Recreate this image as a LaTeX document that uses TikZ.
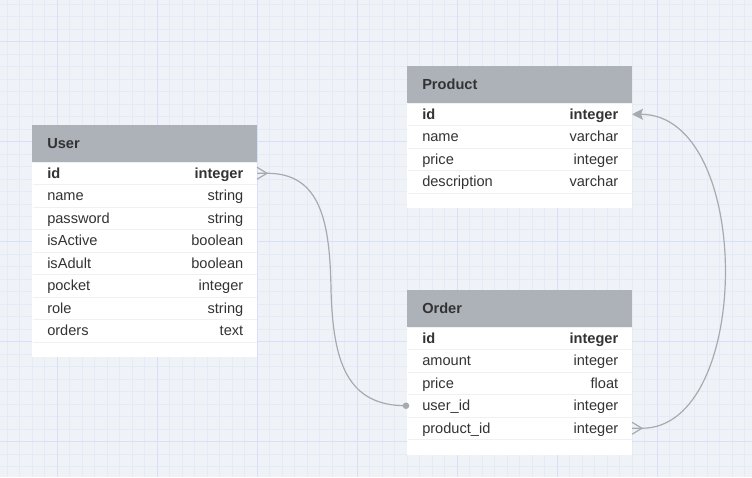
\documentclass[tikz,border=0pt]{standalone}
\usepackage{fontspec}
\setmainfont{Liberation Sans}
\usetikzlibrary{positioning, arrows.meta, calc}
\definecolor{clrcanvas}{HTML}{EFF2F6}
\definecolor{clrgrid_minor}{HTML}{E5EAF7}
\definecolor{clrgrid_major}{HTML}{D8DFF9}
\definecolor{clrheader}{HTML}{ADB2B9}
\definecolor{clrtext}{HTML}{333333}
\definecolor{clrrowline}{HTML}{F0F0F0}
\definecolor{clrlink}{HTML}{A7AAAF}
\newcommand{\rowstrut}{\rule[-3pt]{0pt}{16pt}\hspace*{1.5pt}}

\begin{document}
\begin{tikzpicture}[
    x=1pt, y=-1pt,
    every node/.style={font=\fontsize{14.6}{17}\selectfont, text=clrtext, inner sep=0, outer sep=0},
    header/.style={fill=clrheader, minimum width=225pt, minimum height=37pt, text width=197.5pt,
                   align=left, font=\fontsize{14.6}{17}\selectfont\bfseries, execute at begin node=\rowstrut},
    field/.style={fill=white, minimum width=225pt, minimum height=22.5pt, text width=197.5pt,
                  align=left, execute at begin node=\rowstrut, below=0pt of #1},
    keyfield/.style={field=#1, font=\fontsize{14.6}{17}\selectfont\bfseries},
    tail/.style={fill=white, minimum width=225pt, minimum height=15pt, below=0pt of #1},
    rowline/.style={draw=clrrowline, line width=1pt},
    link/.style={draw=clrlink, line width=1.2pt},
    fkarrow/.style={link, -{Stealth[length=11pt, width=11pt, inset=2pt]}},
]
\useasboundingbox (0,0) rectangle (752,477);
\fill[clrcanvas] (0,0) rectangle (752,477);
\foreach \gx in {7,19.5,...,752} \draw[clrgrid_minor, line width=0.7pt] (\gx,0) -- (\gx,477);
\foreach \gy in {4.2,16.7,...,477} \draw[clrgrid_minor, line width=0.7pt] (0,\gy) -- (752,\gy);
\foreach \gx in {57,157,...,752} \draw[clrgrid_major, line width=0.8pt] (\gx,0) -- (\gx,477);
\foreach \gy in {41.7,141.7,...,477} \draw[clrgrid_major, line width=0.8pt] (0,\gy) -- (752,\gy);

\node[header] (u_head) at (144.5,143.5) {User};
\node[keyfield=u_head] (u_id) {id\hfill integer};
\node[field=u_id] (u_name) {name\hfill string};
\node[field=u_name] (u_password) {password\hfill string};
\node[field=u_password] (u_active) {isActive\hfill boolean};
\node[field=u_active] (u_adult) {isAdult\hfill boolean};
\node[field=u_adult] (u_pocket) {pocket\hfill integer};
\node[field=u_pocket] (u_role) {role\hfill string};
\node[field=u_role] (u_orders) {orders\hfill text};
\node[tail=u_orders] (u_tail) {};

\node[header] (p_head) at (519.5,84.5) {Product};
\node[keyfield=p_head] (p_id) {id\hfill integer};
\node[field=p_id] (p_name) {name\hfill varchar};
\node[field=p_name] (p_price) {price\hfill integer};
\node[field=p_price] (p_desc) {description\hfill varchar};
\node[tail=p_desc] (p_tail) {};

\node[header] (o_head) at (519.5,308.5) {Order};
\node[keyfield=o_head] (o_id) {id\hfill integer};
\node[field=o_id] (o_amount) {amount\hfill integer};
\node[field=o_amount] (o_price) {price\hfill float};
\node[field=o_price] (o_uid) {user\_id\hfill integer};
\node[field=o_uid] (o_pid) {product\_id\hfill integer};
\node[tail=o_pid] (o_tail) {};

\foreach \r in {u_head,u_id,u_name,u_password,u_active,u_adult,u_pocket,u_role,u_orders,
                p_head,p_id,p_name,p_price,p_desc,o_head,o_id,o_amount,o_price,o_uid,o_pid}
    \draw[rowline] ([xshift=0.5pt]\r.south west) -- ([xshift=-0.5pt]\r.south east);

\coordinate (u_fork) at ([xshift=10pt]u_id.east);
\coordinate (o_fork) at ([xshift=10pt]o_pid.east);
\coordinate (u_o_bend) at (331,290);
\draw[link] ([yshift=6pt]u_id.east) -- (u_fork) -- ([yshift=-6pt]u_id.east);
\draw[link] (u_id.east) -- (u_fork) .. controls +(53,0) and +(-1,-70) .. (u_o_bend)
    .. controls +(2,70) and +(-60,0) .. ([xshift=-1pt]o_uid.west);
\fill[clrlink] ([xshift=-1pt]o_uid.west) circle (3.3pt);
\draw[link] ([yshift=6pt]o_pid.east) -- (o_fork) -- ([yshift=-6pt]o_pid.east);
\draw[fkarrow] (o_pid.east) -- (o_fork) .. controls +(111,0) and +(122,0) .. (p_id.east);
\end{tikzpicture}
\end{document}
